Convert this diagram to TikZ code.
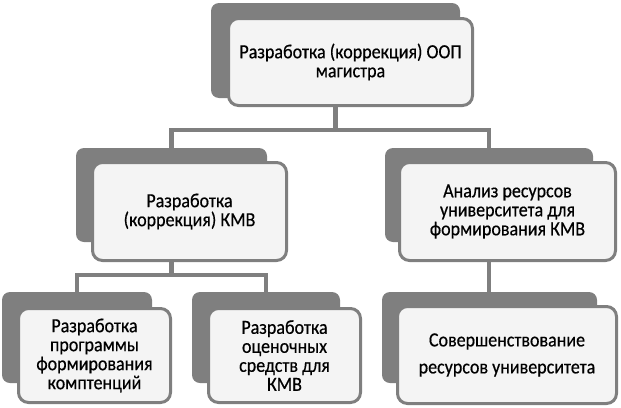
\documentclass[tikz,border=0pt]{standalone}
\usepackage{fontspec}
\setmainfont{Carlito}[FakeStretch=0.9, FakeBold=0.5]
\definecolor{boxgray}{RGB}{127,127,127}
\definecolor{facegray}{RGB}{244,244,244}
\tikzset{
    backbox/.style={rectangle, rounded corners=8pt, fill=boxgray, inner sep=0pt},
    frontbox/.style={rectangle, rounded corners=10pt, draw=boxgray, line width=3pt, fill=facegray, align=center, inner sep=2pt, font=\fontsize{20}{19}\selectfont},
    link/.style={draw=boxgray, line width=4.5pt},
}

\begin{document}
\begin{tikzpicture}[x=1pt, y=-1pt]
    \useasboundingbox (0,0) rectangle (621,407);

    % Back plates
    \node[backbox, minimum width=249pt, minimum height=95pt] (topback) at (335.5,50.5) {};
    \node[backbox, minimum width=191pt, minimum height=94pt] (kmvback) at (171.5,195) {};
    \node[backbox, minimum width=208pt, minimum height=94pt] (resback) at (489,195) {};
    \node[backbox, minimum width=150pt, minimum height=91pt] (progback) at (77,337.5) {};
    \node[backbox, minimum width=148pt, minimum height=91pt] (ocenback) at (266,337.5) {};
    \node[backbox, minimum width=215pt, minimum height=91pt] (sovback) at (489.5,337.5) {};

    % Connectors
    \draw[link] (topback.south) -- ++(0,32) -| (kmvback.north);
    \draw[link] (topback.south) -- ++(0,32) -| (resback.north);
    \draw[link] (kmvback.south) -- ++(0,33) -| (progback.north);
    \draw[link] (kmvback.south) -- ++(0,33) -| (ocenback.north);
    \draw[link] (resback.south) -- (resback.south |- sovback.north);

    % Front boxes
    \node[frontbox, minimum width=244pt, minimum height=87pt] (top) at (350.5,62) {Разработка (коррекция) ООП\\магистра};
    \node[frontbox, minimum width=194pt, minimum height=98pt] (kmv) at (189.5,211.5) {Разработка\\(коррекция) КМВ};
    \node[frontbox, minimum width=216pt, minimum height=98pt] (res) at (507.5,211.5) {Анализ ресурсов\\университета для\\формирования КМВ};
    \node[frontbox, minimum width=152pt, minimum height=94pt] (prog) at (94.5,355.5) {Разработка\\программы\\формирования\\комптенций};
    \node[frontbox, minimum width=152pt, minimum height=94pt] (ocen) at (284.5,355.5) {Разработка\\оценочных\\средств для\\КМВ};
    \node[frontbox, minimum width=219pt, minimum height=97pt] (sov) at (507,355) {Совершенствование\\[8pt]ресурсов университета};

\end{tikzpicture}
\end{document}
